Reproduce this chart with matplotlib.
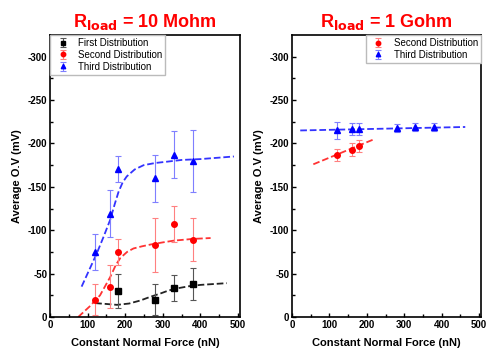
import matplotlib.pyplot as plt

plt.rcParams['font.family'] = ['Liberation Sans', 'DejaVu Sans']
plt.rcParams['axes.unicode_minus'] = False

# left panel: R_load = 10 Mohm
force = [120, 160, 180, 280, 330, 380]
first_x = [180, 280, 330, 380]
first_y = [-30, -20, -33, -38]
first_err = [20, 18, 15, 18]
second_y = [-20, -35, -75, -83, -107, -89]
second_err = [18, 25, 15, 31, 21, 25]
third_y = [-75, -119, -171, -160, -187, -180]
third_err = [21, 27, 15, 27, 27, 36]

# dashed guide lines
fit1_x = [120, 150, 178, 210, 240, 265, 293, 315, 338, 370, 400, 435, 470]
fit1_y = [-16, -15, -14, -15.5, -19, -23, -27, -30.5, -33, -35.5, -37, -38, -39]
fit2_x = [75, 105, 133, 160, 175, 187, 205, 222, 245, 267, 300, 329, 380, 427]
fit2_y = [0, -12, -25, -46, -60, -68, -75, -79, -81.5, -83.5, -86, -88, -90, -91]
fit3_x = [84, 104, 124, 142, 160, 172, 182, 193, 204, 225, 249, 280, 311, 350, 400, 445, 489]
fit3_y = [-35, -54, -73, -92, -112, -130, -144, -155, -162, -170, -175, -177.5, -179, -181, -182, -183.5, -185]

# right panel: R_load = 1 Gohm
g_second_x = [120, 160, 180]
g_second_y = [-187, -193, -197]
g_second_err = [7, 7, 7]
g_third_y = [-215, -217, -217, -218, -219, -219]
g_third_err = [10, 7, 7, 5, 5, 5]
gfit2_x = [57, 220]
gfit2_y = [-176, -205]
gfit3_x = [22, 463]
gfit3_y = [-215, -219]

fig = plt.figure(figsize=(4.87, 3.49), dpi=100)
ax1 = fig.add_axes([0.1027, 0.0917, 0.390, 0.808])
ax2 = fig.add_axes([0.5996, 0.0917, 0.388, 0.808])

eb = dict(capsize=2, elinewidth=0.8, capthick=0.8, linestyle='none', markersize=4)

ax1.plot(fit1_x, fit1_y, '--', color='#222222', lw=1.3)
ax1.plot(fit2_x, fit2_y, '--', color='#ff3333', lw=1.3)
ax1.plot(fit3_x, fit3_y, '--', color='#3333ff', lw=1.3)
ax1.errorbar(first_x, first_y, yerr=first_err, fmt='s', color='black', ecolor='#555555',
             label='First Distribution', **eb)
ax1.errorbar(force, second_y, yerr=second_err, fmt='o', color='red', ecolor='#ff8080',
             label='Second Distribution', **eb)
ax1.errorbar(force, third_y, yerr=third_err, fmt='^', color='blue', ecolor='#7f7fff',
             label='Third Distribution', **eb)

ax2.plot(gfit2_x, gfit2_y, '--', color='#ff3333', lw=1.3)
ax2.plot(gfit3_x, gfit3_y, '--', color='#3333ff', lw=1.3)
ax2.errorbar(g_second_x, g_second_y, yerr=g_second_err, fmt='o', color='red', ecolor='#ff8080',
             label='Second Distribution', **eb)
ax2.errorbar(force, g_third_y, yerr=g_third_err, fmt='^', color='blue', ecolor='#7f7fff',
             label='Third Distribution', **eb)

for ax, title in [(ax1, 'R$_{\\mathbf{load}}$ = 10 Mohm'), (ax2, 'R$_{\\mathbf{load}}$ = 1 Gohm')]:
    ax.set_xlim(0, 505)
    ax.set_ylim(0, -325)
    ax.set_xticks([0, 100, 200, 300, 400, 500])
    ax.set_xticks(range(50, 500, 100), minor=True)
    ax.set_yticks([0, -50, -100, -150, -200, -250, -300])
    ax.set_yticks(range(-25, -325, -50), minor=True)
    ax.tick_params(direction='in', labelsize=7, length=3, width=1, pad=2)
    ax.tick_params(which='minor', direction='in', length=2, width=1)
    for lbl in ax.get_xticklabels() + ax.get_yticklabels():
        lbl.set_fontweight('bold')
    for sp in ax.spines.values():
        sp.set_linewidth(1.2)
    ax.set_xlabel('Constant Normal Force (nN)', fontsize=8, fontweight='bold', labelpad=6)
    ax.set_ylabel('Average O.V (mV)', fontsize=8, fontweight='bold', labelpad=4)
    ax.set_title(title, color='red', fontsize=13, fontweight='bold', pad=6)

# legends: small markers, no error bars in handles
leg_kw = dict(fontsize=7, handletextpad=0.6, borderpad=0.3, labelspacing=0.2, markerscale=0.8,
              fancybox=False, framealpha=1, edgecolor='#bbbbbb', borderaxespad=0)
ax1.legend(loc='upper left', **leg_kw)
ax2.legend(loc='upper right', **leg_kw)

fig.savefig('out.png', dpi=100)
